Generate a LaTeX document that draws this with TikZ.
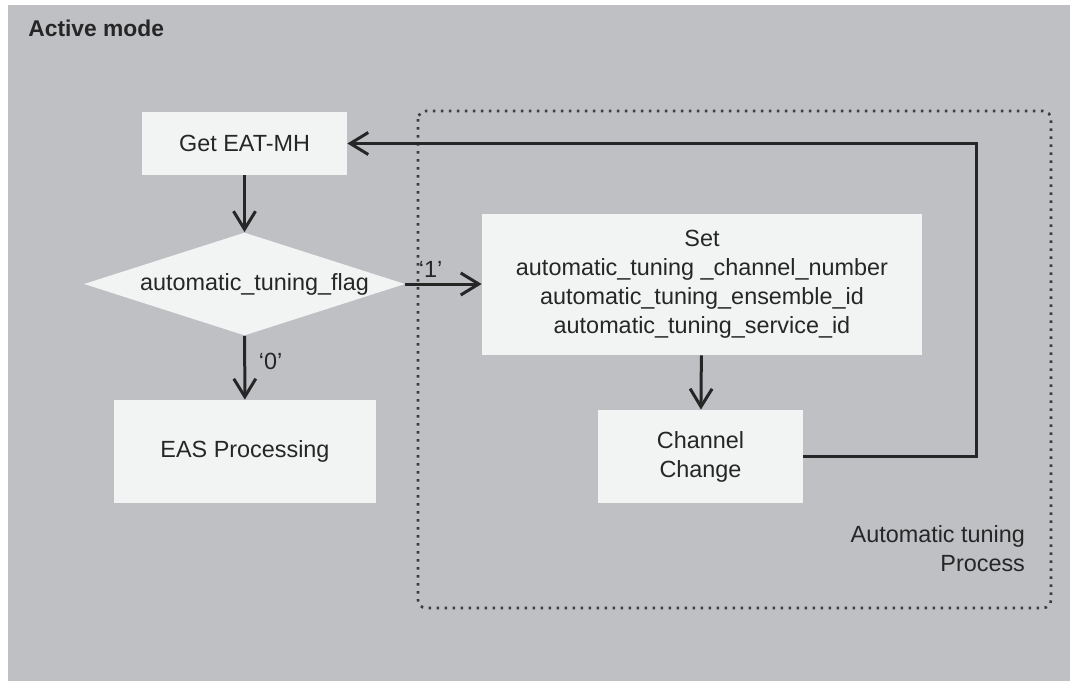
\documentclass[tikz,border=0pt]{standalone}
\usepackage{fontspec}
\setmainfont{Liberation Sans}
\usepackage{tikz}
\usetikzlibrary{shapes.geometric}
\usetikzlibrary{arrows.meta}
\definecolor{panel}{HTML}{BFC0C4}
\definecolor{boxfill}{HTML}{F2F3F3}
\definecolor{ink}{HTML}{262626}
\definecolor{dots}{HTML}{3C3C3E}
\tikzstyle{txt}=[text=ink, font=\fontsize{11.7pt}{14.5pt}\selectfont]
\tikzstyle{box}=[txt, fill=boxfill, inner sep=0pt, align=center]
\tikzstyle{decision}=[box, diamond, aspect=3.1]
\tikzstyle{link}=[draw=ink, line width=1.5pt, -{Straight Barb[length=9pt,width=11pt]}]

\begin{document}
\begin{tikzpicture}[x=0.5pt, y=-0.5pt]
        \useasboundingbox (0,0) rectangle (1070,681);
        \fill[panel] (8,5) rectangle (1070,681);
        \node[anchor=west, inner sep=0pt, text=ink, font=\bfseries\fontsize{11.4pt}{14pt}\selectfont] (title) at (28,28) {Active mode};
        \draw[dots, line width=1.3pt, dash pattern=on 1.3pt off 2.7pt, rounded corners=4pt] (418,111) rectangle (1051,608);
        \node[box, minimum width=102.5pt, minimum height=31.5pt] (getmh) at (244.5,143.5) {Get EAT-MH};
        \node[decision, minimum width=160.5pt, minimum height=51.5pt] (flag) at (244.5,284) {\hspace{10pt}automatic\_tuning\_flag};
        \node[box, minimum width=131pt, minimum height=51.5pt] (eas) at (245,451.5) {EAS Processing};
        \node[box, minimum width=220pt, minimum height=70.5pt] (setbox) at (702,284.5) {Set\\automatic\_tuning \_channel\_number\\automatic\_tuning\_ensemble\_id\\automatic\_tuning\_service\_id};
        \node[box, minimum width=102.5pt, minimum height=46.5pt] (chan) at (700.5,456.5) {Channel\\Change};
        \node[txt, anchor=east, align=right] (proclabel) at (1032,549) {Automatic tuning\\Process};
        \coordinate (turn) at (976,143.5);
        \foreach \a/\b in {getmh/flag, setbox/chan}{
          \draw[link] (\a) -- (\b);
        }
        \draw[link] (flag) -- node[txt, right=3pt, pos=0.4] (zero) {`0'} (eas);
        \draw[link] (flag.east) -- node[txt, above=-1pt, pos=0.33] (one) {`1'} (setbox.west |- flag.east);
        \draw[link] (chan.east) -| (turn) -- (getmh.east);
      \end{tikzpicture}
\end{document}
